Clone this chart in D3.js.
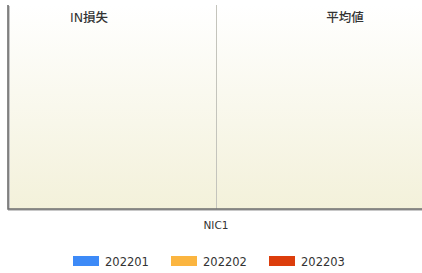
<!DOCTYPE html>
<html>
<head>
<meta charset="utf-8">
<script src="https://cdn.jsdelivr.net/npm/d3@7"></script>
<style>
  body { margin: 0; background: #fff; }
  text { font-family: "DejaVu Sans", "Noto Sans CJK JP", sans-serif; fill: #333; }
</style>
</head>
<body>
<script>
// data
const panels = ["IN損失", "平均値"];
const categories = ["NIC1"];
const seriesNames = ["202201", "202202", "202203"];
const seriesColors = ["#3d8af7", "#fbb540", "#dc3d0c"];
// no values shown in the chart, all empty
const lossValues = [0, 0, 0];
const avgValues = [0, 0, 0];

const W = 422, H = 273;
const margin = { top: 5, right: 0, bottom: 64, left: 8 };
const width = W - margin.left - margin.right;
const height = H - margin.top - margin.bottom;

const svg = d3.select("body").append("svg")
  .attr("width", W)
  .attr("height", H);

const defs = svg.append("defs");
const grad = defs.append("linearGradient")
  .attr("id", "bg").attr("x1", 0).attr("y1", 0).attr("x2", 0).attr("y2", 1);
grad.append("stop").attr("offset", "0%").attr("stop-color", "#ffffff");
grad.append("stop").attr("offset", "100%").attr("stop-color", "#f3f1da");

const g = svg.append("g")
  .attr("transform", `translate(${margin.left},${margin.top})`);

// plot background
g.append("rect")
  .attr("width", width)
  .attr("height", height)
  .attr("fill", "url(#bg)");

// scales
const x0 = d3.scaleBand().domain(panels).range([0, width + 2]);
const x1 = d3.scaleBand().domain(seriesNames).range([0, x0.bandwidth()]).padding(0.2);
const y = d3.scaleLinear().domain([0, 1]).range([height, 0]);
const color = d3.scaleOrdinal().domain(seriesNames).range(seriesColors);

// divider between panels
g.append("line")
  .attr("x1", x0("平均値") + 0.5).attr("x2", x0("平均値") + 0.5)
  .attr("y1", 0).attr("y2", height)
  .attr("stroke", "#c4c4bc")
  .attr("stroke-width", 1);

// bars (all zero)
const panelData = [lossValues, avgValues];
panels.forEach((p, pi) => {
  g.append("g")
    .attr("transform", `translate(${x0(p)},0)`)
    .selectAll("rect")
    .data(panelData[pi])
    .enter()
    .append("rect")
    .attr("x", (d, i) => x1(seriesNames[i]))
    .attr("y", (d) => y(d))
    .attr("width", x1.bandwidth())
    .attr("height", (d) => height - y(d))
    .attr("fill", (d, i) => color(seriesNames[i]));
});

// panel titles
const titleX = [81, 337];
g.selectAll(".title")
  .data(panels)
  .enter()
  .append("text")
  .attr("class", "title")
  .attr("x", (d, i) => titleX[i])
  .attr("y", 17)
  .attr("text-anchor", "middle")
  .style("font-size", "12.5px")
  .style("font-weight", "500")
  .style("fill", "#333")
  .text((d) => d);

// axis lines with a light shadow
g.append("path")
  .attr("d", `M1,1V${height + 1}H${width}`)
  .attr("fill", "none")
  .attr("stroke", "#c8c8c8")
  .attr("stroke-width", 2);
g.append("path")
  .attr("d", `M0,0V${height}H${width}`)
  .attr("fill", "none")
  .attr("stroke", "#6e6e6e")
  .attr("stroke-width", 1.6);

// category label
const xc = d3.scaleBand().domain(categories).range([0, width + 2]);
g.selectAll(".cat")
  .data(categories)
  .enter()
  .append("text")
  .attr("class", "cat")
  .attr("x", (d) => xc(d) + xc.bandwidth() / 2)
  .attr("y", height + 20)
  .attr("text-anchor", "middle")
  .style("font-size", "10.5px")
  .text((d) => d);

// legend
const legendX = [73, 171, 269];
const legend = svg.append("g").attr("transform", "translate(0,256)");
const items = legend.selectAll("g")
  .data(seriesNames)
  .enter()
  .append("g")
  .attr("transform", (d, i) => `translate(${legendX[i]},0)`);
items.append("rect")
  .attr("width", 26)
  .attr("height", 10)
  .attr("fill", (d) => color(d));
items.append("text")
  .attr("x", 32)
  .attr("y", 9.5)
  .style("font-size", "11.5px")
  .text((d) => d);
</script>
</body>
</html>
